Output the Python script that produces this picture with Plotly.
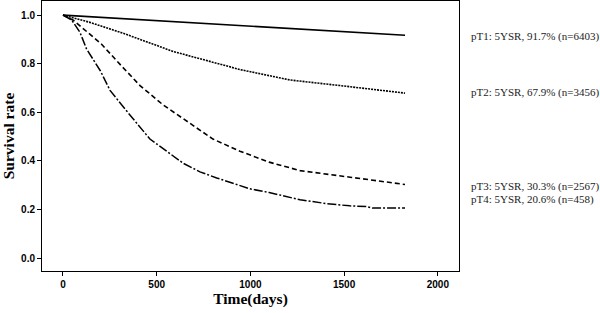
import plotly.graph_objects as go

# Data (days, survival rate)
pt1_days = [0, 1825]
pt1_surv = [1.0, 0.917]

pt2_days = [0, 50, 144, 322, 589, 944, 1211, 1478, 1825]
pt2_surv = [1.0, 0.99, 0.97, 0.925, 0.85, 0.776, 0.733, 0.71, 0.679]

pt3_days = [0, 55, 130, 206, 313, 411, 535, 678, 800, 944, 1100, 1265, 1400, 1532, 1825]
pt3_surv = [1.0, 0.979, 0.93, 0.88, 0.79, 0.71, 0.63, 0.555, 0.49, 0.44, 0.395, 0.36, 0.345, 0.333, 0.303]

pt4_days = [0, 46, 90, 126, 200, 251, 340, 464, 553, 642, 731, 820, 998, 1100, 1265, 1400, 1530, 1620, 1650, 1825]
pt4_surv = [1.0, 0.98, 0.93, 0.86, 0.77, 0.69, 0.605, 0.49, 0.44, 0.39, 0.355, 0.33, 0.285, 0.27, 0.24, 0.225, 0.215, 0.212, 0.206, 0.206]

labels = ["pT1: 5YSR, 91.7% (n=6403)", "pT2: 5YSR, 67.9% (n=3456)",
          "pT3: 5YSR, 30.3% (n=2567)", "pT4: 5YSR, 20.6% (n=458)"]
label_y = [0.911, 0.68, 0.296, 0.242]

x_ticks = [0, 500, 1000, 1500, 2000]
y_ticks = [0.0, 0.2, 0.4, 0.6, 0.8, 1.0]

fig = go.Figure()
fig.add_trace(go.Scatter(x=pt1_days, y=pt1_surv, mode="lines",
                         line=dict(color="black", width=1.6, dash="solid")))
fig.add_trace(go.Scatter(x=pt2_days, y=pt2_surv, mode="lines",
                         line=dict(color="black", width=1.6, dash="2px,1px")))
fig.add_trace(go.Scatter(x=pt3_days, y=pt3_surv, mode="lines",
                         line=dict(color="black", width=1.6, dash="5px,3px")))
fig.add_trace(go.Scatter(x=pt4_days, y=pt4_surv, mode="lines",
                         line=dict(color="black", width=1.5, dash="9px,2px,2px,2px")))

for txt, yv in zip(labels, label_y):
    fig.add_annotation(x=1.024, xref="paper", y=yv, yref="y", text=txt,
                       showarrow=False, xanchor="left", yanchor="middle",
                       font=dict(family="Liberation Serif", size=11, color="#222"))

fig.update_layout(
    width=600, height=313,
    margin=dict(l=42, r=141, t=1, b=42, autoexpand=False),
    paper_bgcolor="white", plot_bgcolor="white",
    showlegend=False,
    font=dict(family="Liberation Sans", color="black"),
)
fig.update_xaxes(
    range=[-112, 2113], tickvals=x_ticks, ticks="outside", ticklen=4,
    tickcolor="black", showgrid=False, zeroline=False, automargin=False,
    showline=True, mirror=True, linecolor="black", linewidth=1,
    tickfont=dict(family="Liberation Sans", size=10, weight="bold"),
    title=dict(text="Time(days)", standoff=2,
               font=dict(family="Liberation Serif", size=15.5, weight="bold")),
)
fig.update_yaxes(
    range=[-0.053, 1.058], tickvals=y_ticks, tickformat=".1f", ticks="outside",
    ticklen=4, tickcolor="black", showgrid=False, zeroline=False, automargin=False,
    showline=True, mirror=True, linecolor="black", linewidth=1,
    tickfont=dict(family="Liberation Sans", size=10, weight="bold"),
    title=dict(text="Survival rate", standoff=4,
               font=dict(family="Liberation Serif", size=15.5, weight="bold")),
)

fig.write_html("out.html", config={"displayModeBar": False},
               post_script="document.body.style.margin='0';document.body.style.overflow='hidden';")
